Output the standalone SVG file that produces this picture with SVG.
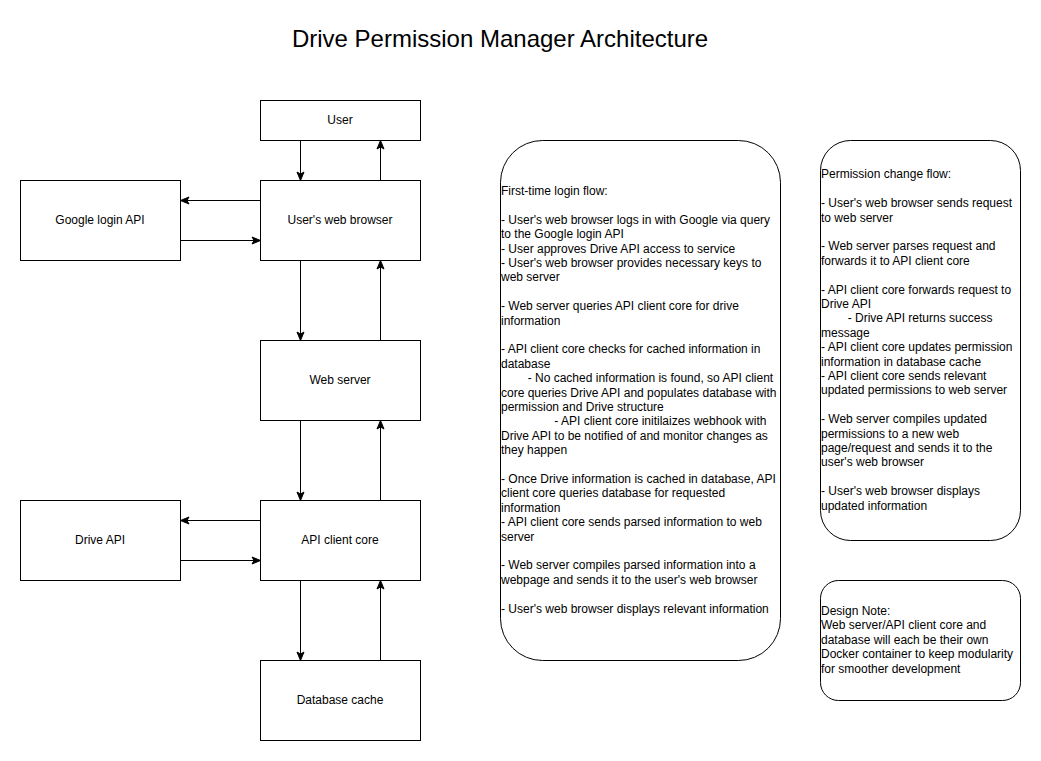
<svg xmlns="http://www.w3.org/2000/svg" width="1041" height="761" viewBox="0 0 1041 761">
<style>
.box{fill:#fff;stroke:#000;stroke-width:1}
.lbl{font-family:"Liberation Sans",Arial,sans-serif;font-size:12px;fill:#000;text-anchor:middle;transform:translate(-0.5px,-1.5px)}
.note{font-family:"Liberation Sans",Arial,sans-serif;font-size:12px;fill:#000;transform:translate(-0.5px,-1.5px)}
.title{font-family:"Liberation Sans",Arial,sans-serif;font-size:24px;fill:#000;text-anchor:middle}
.edge{fill:none;stroke:#000;stroke-width:1;marker-end:url(#arr)}
</style>
<defs>
<marker id="arr" markerUnits="userSpaceOnUse" markerWidth="12" markerHeight="10" refX="9" refY="4" orient="auto" overflow="visible">
<path d="M0.5,0.5 L9,4 L0.5,7.5 L2.5,4 Z" fill="#000" stroke="#000" stroke-width="1"/>
</marker>
</defs>
<rect width="1041" height="761" fill="#fff"/>
<text id="title" class="title" x="500" y="47">Drive Permission Manager Architecture</text>

<g transform="translate(0.5,0.5)">
<g id="user"><rect class="box" x="260" y="100" width="160" height="40"/><text class="lbl" x="340" y="124.5">User</text></g>
<g id="browser"><rect class="box" x="260" y="180" width="160" height="80"/><text class="lbl" x="340" y="224.5">User's web browser</text></g>
<g id="google"><rect class="box" x="20" y="180" width="160" height="80"/><text class="lbl" x="100" y="224.5">Google login API</text></g>
<g id="webserver"><rect class="box" x="260" y="340" width="160" height="80"/><text class="lbl" x="340" y="384.5">Web server</text></g>
<g id="apicore"><rect class="box" x="260" y="500" width="160" height="80"/><text class="lbl" x="340" y="544.5">API client core</text></g>
<g id="driveapi"><rect class="box" x="20" y="500" width="160" height="80"/><text class="lbl" x="100" y="544.5">Drive API</text></g>
<g id="dbcache"><rect class="box" x="260" y="660" width="160" height="80"/><text class="lbl" x="340" y="704.5">Database cache</text></g>

<g id="connectors">
<path class="edge" d="M300,140 L300,180"/>
<path class="edge" d="M380,180 L380,140"/>
<path class="edge" d="M260,200 L180,200"/>
<path class="edge" d="M180,240 L260,240"/>
<path class="edge" d="M300,260 L300,340"/>
<path class="edge" d="M380,340 L380,260"/>
<path class="edge" d="M300,420 L300,500"/>
<path class="edge" d="M380,500 L380,420"/>
<path class="edge" d="M260,520 L180,520"/>
<path class="edge" d="M180,560 L260,560"/>
<path class="edge" d="M300,580 L300,660"/>
<path class="edge" d="M380,660 L380,580"/>
</g>

<g id="login-flow">
<rect class="box" x="500" y="140" width="280" height="520" rx="42" ry="42"/>
<text class="note">
<tspan x="501" y="196">First-time login flow:</tspan>
<tspan x="501" y="224.8">- User's web browser logs in with Google via query</tspan>
<tspan x="501" y="239.2">to the Google login API</tspan>
<tspan x="501" y="253.6">- User approves Drive API access to service</tspan>
<tspan x="501" y="268">- User's web browser provides necessary keys to</tspan>
<tspan x="501" y="282.4">web server</tspan>
<tspan x="501" y="311.2">- Web server queries API client core for drive</tspan>
<tspan x="501" y="325.6">information</tspan>
<tspan x="501" y="354.4">- API client core checks for cached information in</tspan>
<tspan x="501" y="368.8">database</tspan>
<tspan x="527.7" y="383.2">- No cached information is found, so API client</tspan>
<tspan x="501" y="397.6">core queries Drive API and populates database with</tspan>
<tspan x="501" y="412">permission and Drive structure</tspan>
<tspan x="554.3" y="426.4">- API client core initilaizes webhook with</tspan>
<tspan x="501" y="440.8">Drive API to be notified of and monitor changes as</tspan>
<tspan x="501" y="455.2">they happen</tspan>
<tspan x="501" y="484">- Once Drive information is cached in database, API</tspan>
<tspan x="501" y="498.4">client core queries database for requested</tspan>
<tspan x="501" y="512.8">information</tspan>
<tspan x="501" y="527.2">- API client core sends parsed information to web</tspan>
<tspan x="501" y="541.6">server</tspan>
<tspan x="501" y="570.4">- Web server compiles parsed information into a</tspan>
<tspan x="501" y="584.8">webpage and sends it to the user's web browser</tspan>
<tspan x="501" y="613.6">- User's web browser displays relevant information</tspan>
</text>
</g>

<g id="permission-flow">
<rect class="box" x="820" y="140" width="200" height="400" rx="30" ry="30"/>
<text class="note">
<tspan x="821" y="179.3">Permission change flow:</tspan>
<tspan x="821" y="208.1">- User's web browser sends request</tspan>
<tspan x="821" y="222.5">to web server</tspan>
<tspan x="821" y="251.3">- Web server parses request and</tspan>
<tspan x="821" y="265.7">forwards it to API client core</tspan>
<tspan x="821" y="294.5">- API client core forwards request to</tspan>
<tspan x="821" y="308.9">Drive API</tspan>
<tspan x="847.7" y="323.3">- Drive API returns success</tspan>
<tspan x="821" y="337.7">message</tspan>
<tspan x="821" y="352.1">- API client core updates permission</tspan>
<tspan x="821" y="366.5">information in database cache</tspan>
<tspan x="821" y="380.9">- API client core sends relevant</tspan>
<tspan x="821" y="395.3">updated permissions to web server</tspan>
<tspan x="821" y="424.1">- Web server compiles updated</tspan>
<tspan x="821" y="438.5">permissions to a new web</tspan>
<tspan x="821" y="452.9">page/request and sends it to the</tspan>
<tspan x="821" y="467.3">user's web browser</tspan>
<tspan x="821" y="496.1">- User's web browser displays</tspan>
<tspan x="821" y="510.5">updated information</tspan>
</text>
</g>

<g id="design-note">
<rect class="box" x="820" y="580" width="200" height="120" rx="18" ry="18"/>
<text class="note">
<tspan x="821" y="616">Design Note:</tspan>
<tspan x="821" y="630.4">Web server/API client core and</tspan>
<tspan x="821" y="644.8">database will each be their own</tspan>
<tspan x="821" y="659.2">Docker container to keep modularity</tspan>
<tspan x="821" y="673.6">for smoother development</tspan>
</text>
</g>
</g>
</svg>
